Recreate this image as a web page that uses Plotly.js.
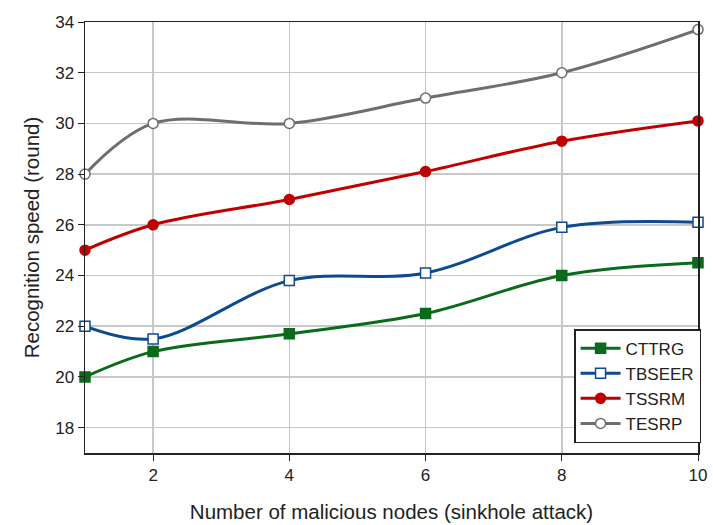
<!DOCTYPE html>
<html><head><meta charset="utf-8">
<script src="https://cdn.plot.ly/plotly-3.0.1.min.js"></script>
<style>body{margin:0;background:#fff}#c{width:713px;height:525px}</style>
</head><body><div id="c"></div>
<script>
const xs = [1, 2, 4, 6, 8, 10];
const seriesNames = ["CTTRG", "TBSEER", "TSSRM", "TESRP"];
const cttrg = [20, 21, 21.7, 22.5, 24, 24.5];
const tbseer = [22, 21.5, 23.8, 24.1, 25.9, 26.1];
const tssrm = [25, 26, 27, 28.1, 29.3, 30.1];
const tesrp = [28, 30, 30, 31, 32, 33.7];
const xTicks = [2, 4, 6, 8, 10];
const yTicks = [18, 20, 22, 24, 26, 28, 30, 32, 34];

const styles = [
  {color: "#0b6b1c", symbol: "square", fill: "#0b6b1c"},
  {color: "#0d4a8f", symbol: "square", fill: "#ffffff"},
  {color: "#c00000", symbol: "circle", fill: "#c00000"},
  {color: "#6e6e6e", symbol: "circle", fill: "#ffffff"}
];
const vals = [cttrg, tbseer, tssrm, tesrp];
const traces = vals.map((v, i) => ({
  x: xs, y: v, name: seriesNames[i], type: "scatter", mode: "lines+markers",
  line: {color: styles[i].color, width: 3, shape: "spline", smoothing: 1},
  marker: {symbol: styles[i].symbol, size: 10, color: styles[i].fill,
           line: {color: styles[i].color, width: 1.5}},
  cliponaxis: false
}));

const layout = {
  width: 713, height: 525,
  margin: {l: 85, r: 13, t: 22, b: 72},
  paper_bgcolor: "#fff", plot_bgcolor: "#fff",
  font: {family: "Liberation Sans, Arial, sans-serif", color: "#222"},
  xaxis: {range: [1, 10], tickvals: xTicks, ticks: "outside", ticklen: 6, tickcolor: "#222",
          showline: true, linecolor: "#222", linewidth: 1.5, mirror: true,
          showgrid: true, gridcolor: "#c8c8c8", gridwidth: 1.5, zeroline: false,
          tickfont: {size: 17}, 
          title: {text: "Number of malicious nodes (sinkhole attack)", font: {size: 20.5}, standoff: 20}},
  yaxis: {range: [17, 34], tickvals: yTicks, ticks: "outside", ticklen: 6, tickcolor: "#222",
          showline: true, linecolor: "#222", linewidth: 1.5, mirror: true,
          showgrid: true, gridcolor: "#c8c8c8", gridwidth: 1.5, zeroline: false,
          tickfont: {size: 17},
          title: {text: "Recognition speed (round)", font: {size: 20.5}, standoff: 10}},
  legend: {x: 1.005, y: 0.023, xanchor: "right", yanchor: "bottom",
           bgcolor: "#fff", bordercolor: "#222", borderwidth: 1.5,
           font: {size: 17}, tracegroupgap: 0, itemwidth: 40},
  showlegend: true
};
Plotly.newPlot("c", traces, layout, {staticPlot: true});
</script></body></html>
